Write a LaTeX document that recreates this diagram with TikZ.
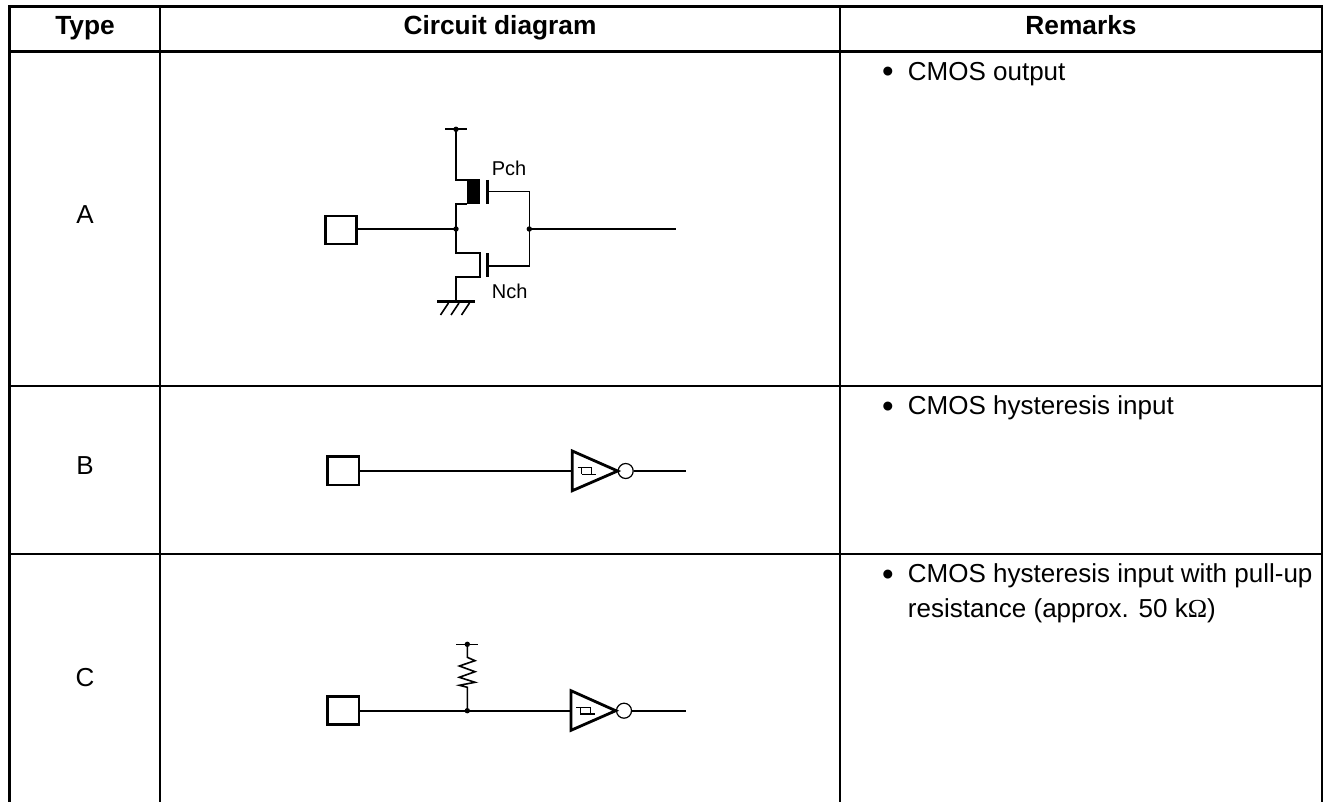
\documentclass[tikz,border=0pt]{standalone}
\usepackage{fontspec}
\setmainfont{Liberation Sans}
\newfontfamily\omegafont{Liberation Serif}
\begin{document}
\begin{tikzpicture}[x=1pt,y=-1pt,
  grid/.style={line width=2.6pt,line cap=butt},
  wire/.style={line width=1.6pt,line join=miter},
  thick wire/.style={line width=2.8pt},
  hyst/.style={line width=1.2pt},
  pad/.style={draw,line width=2.4pt,rectangle,minimum width=30pt,minimum height=27pt,inner sep=0pt},
  dot/.style={circle,fill=black,inner sep=0pt,minimum size=5.4pt},
  bubble/.style={circle,draw,line width=1.2pt,inner sep=0pt,minimum size=15pt},
  body/.style={inner sep=0pt,font=\fontsize{26}{35}\selectfont},
  bull/.style={inner sep=0pt,anchor=base west,font=\fontsize{33}{35}\selectfont},
  head/.style={inner sep=0pt,anchor=base,font=\fontsize{26.3}{30}\selectfont\bfseries},
  small/.style={inner sep=0pt,anchor=base west,font=\fontsize{20}{24}\selectfont}]
\useasboundingbox (0,0) rectangle (1332,802);
% table rules
\coordinate (tl) at (9.7,6.5); \coordinate (tr) at (1322,6.5);
\coordinate (bl) at (9.7,802); \coordinate (br) at (1322,802);
\coordinate (c1t) at (160,6.5); \coordinate (c1b) at (160,802);
\coordinate (c2t) at (840,6.5); \coordinate (c2b) at (840,802);
\coordinate (h1l) at (9.7,51.7); \coordinate (h1r) at (1322,51.7);
\coordinate (h2l) at (9.7,386); \coordinate (h2r) at (1322,386);
\coordinate (h3l) at (9.7,554); \coordinate (h3r) at (1322,554);
\draw[grid,line join=miter] (bl) -- (tl) -- (tr) -- (br);
\draw[grid] (c1t) -- (c1b);
\draw[grid] (c2t) -- (c2b);
\draw[grid] (h1l) -- (h1r);
\draw[grid] (h2l) -- (h2r);
\draw[grid] (h3l) -- (h3r);
% headings
\node[head] (hType) at (85,35) {Type};
\node[head] (hCirc) at (500,35) {Circuit diagram};
\node[head] (hRem) at (1081,35) {Remarks};
\node[body,anchor=base] (tA) at (85,224) {A};
\node[body,anchor=base] (tB) at (85,474) {B};
\node[body,anchor=base] (tC) at (85,686) {C};
% remarks
\node[bull] (bulA) at (882,83) {•};
\node[body,anchor=base west] (remA) at (907.7,80.5) {CMOS output};
\node[bull] (bulB) at (882,417) {•};
\node[body,anchor=base west] (remB) at (907.7,414.5) {CMOS hysteresis input};
\node[bull] (bulC) at (882,585) {•};
\node[body,anchor=north west,align=left] (remC) at (907.7,563.5) {CMOS hysteresis input with pull-up\\resistance (approx. 50 k{\omegafont Ω})};
% circuit A
\node[pad,minimum width=31pt,minimum height=28pt] (padA) at (341,230) {};
\node[dot] (vddA) at (456,129.3) {};
\coordinate (vddAl) at (445,129.3); \coordinate (vddAr) at (467,129.3);
\draw[wire] (vddAl) -- (vddAr);
\node[dot] (inA) at (456,229) {};
\node[dot] (outA) at (529.3,229) {};
\coordinate (pS) at (467,180); \coordinate (pD) at (467,204);
\coordinate (pK1) at (456,180); \coordinate (pK2) at (456,204);
\fill (467,179.5) rectangle (480,204.5);
\draw[wire] (vddA.center) -- (pK1) -- (pS);
\draw[wire] (pD) -- (pK2) -- (inA.center);
\coordinate (nS) at (480,253.3); \coordinate (nD) at (480,276.7);
\coordinate (nK1) at (456,253.3); \coordinate (nK2) at (456,276.7);
\coordinate (gnd) at (456,301.7);
\draw[wire] (inA.center) -- (nK1) -- (nS) -- (nD) -- (nK2) -- (gnd);
\draw[thick wire] (437.3,301.7) -- (475,301.7);
\draw[wire] (448.5,303) -- (440.5,315);
\draw[wire] (459,303) -- (451,315);
\draw[wire] (469.5,303) -- (461.5,315);
\coordinate (pG) at (487.7,191.7); \coordinate (pG1) at (529.3,191.7);
\coordinate (nG) at (487.7,265.7); \coordinate (nG1) at (529.3,265.7);
\draw[thick wire] (487.7,180) -- (487.7,204);
\draw[thick wire] (487.7,253.3) -- (487.7,277);
\draw[wire] (pG) -- (pG1) -- (outA.center) -- (nG1) -- (nG);
\coordinate (outAe) at (675.7,229);
\draw[wire] (outA.center) -- (outAe);
\draw[wire] (padA.east |- inA) -- (inA.center);
\node[small] (pch) at (491.7,176) {Pch};
\node[small] (nch) at (491.7,298) {Nch};
% circuit B
\node[pad,minimum width=31.5pt,minimum height=28.3pt] (padB) at (343.2,470.8) {};
\coordinate (triBl) at (572.3,471);
\coordinate (triBt) at (572.3,451); \coordinate (triBb) at (572.3,490.7); \coordinate (triBe) at (617.7,471);
\draw[thick wire,line join=miter] (triBt) -- (triBe) -- (triBb) -- cycle;
\draw[hyst] (577.7,467.7) -- (591.7,467.7) -- (591.7,474.3);
\draw[hyst] (581.7,467.7) -- (581.7,474.3);
\draw[hyst] (581.7,474.3) -- (596,474.3);
\node[bubble] (bubB) at (625.7,471) {};
\coordinate (outBe) at (686,471);
\draw[wire] (padB.east |- triBl) -- (triBl);
\draw[wire] (bubB) -- (outBe);
% circuit C
\node[pad,minimum width=31.5pt,minimum height=28.3pt] (padC) at (343.2,710.5) {};
\node[dot] (vddC) at (467.3,644.3) {};
\coordinate (vddCl) at (456,644.3); \coordinate (vddCr) at (478.3,644.3);
\draw[wire] (vddCl) -- (vddCr);
\node[dot] (inC) at (467.3,710.7) {};
\coordinate (triCl) at (571,710.7);
\coordinate (triCt) at (571,690.7); \coordinate (triCb) at (571,730.3); \coordinate (triCe) at (615.7,710.7);
\draw[thick wire,line join=miter] (triCt) -- (triCe) -- (triCb) -- cycle;
\draw[hyst] (576.4,707.4) -- (590.4,707.4) -- (590.4,714);
\draw[hyst] (580.4,707.4) -- (580.4,714);
\draw[hyst] (580.4,714) -- (594.7,714);
\node[bubble] (bubC) at (624,710.7) {};
\coordinate (outCe) at (686,710.7);
\draw[wire] (padC.east |- inC) -- (triCl);
\draw[wire] (bubC) -- (outCe);
\draw[wire] (vddC.center) -- (467.3,657.3) -- (475,660.7) -- (459.3,666) -- (475,671.7) -- (459.3,677.3) -- (475,682.3) -- (459.3,685.3) -- (467.3,687.3) -- (inC.center);
\end{tikzpicture}
\end{document}
